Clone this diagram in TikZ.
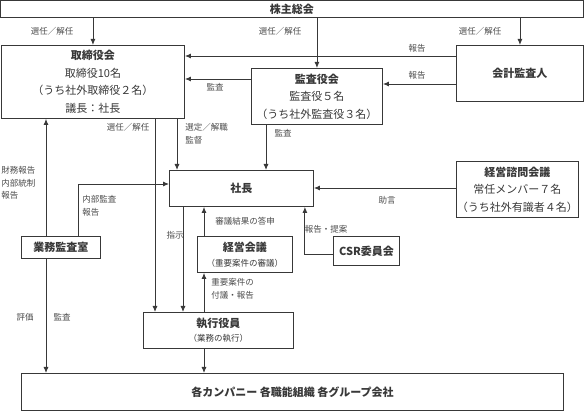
\documentclass[tikz,border=0pt]{standalone}
\usepackage{fontspec}
\setmainfont{Noto Sans CJK JP}
\usetikzlibrary{arrows.meta, positioning, calc}
\definecolor{LineGray}{rgb}{0.22, 0.22, 0.22}
\definecolor{LabelGray}{rgb}{0.3, 0.3, 0.3}

\tikzset{
  orgbox/.style={draw=LineGray, line width=0.9pt, anchor=north west, inner sep=0pt,
    align=center, font=\fontsize{11}{17.5}\selectfont},
  lbl/.style={text=LabelGray, inner sep=0pt, align=left, font=\fontsize{8.5}{12.5}\selectfont},
  ttl/.style={font=\bfseries}
}

\begin{document}
\begin{tikzpicture}[x=1pt, y=-1pt, >={Latex[length=6pt,width=5pt]}, line width=0.9pt, color=LineGray]
        \useasboundingbox (0,0) rectangle (584,411);
        % Boxes
        \node [orgbox, minimum width=583, minimum height=17] (soukai) at (0,0) {\bfseries 株主総会};
        \node [orgbox, minimum width=183, minimum height=73] (tori) at (1,45)
          {{\bfseries 取締役会}\\取締役10名\\（うち社外取締役２名）\\議長：社長};
        \node [orgbox, minimum width=131, minimum height=56] (kansa) at (251,68)
          {{\bfseries 監査役会}\\監査役５名\\（うち社外監査役３名）};
        \node [orgbox, minimum width=127, minimum height=56] (kaikei) at (456,45) {\bfseries 会計監査人};
        \node [orgbox, minimum width=144, minimum height=36] (shacho) at (169,170) {\bfseries 社長};
        \node [orgbox, minimum width=122, minimum height=56] (shimon) at (456,161)
          {{\bfseries 経営諮問会議}\\常任メンバー７名\\（うち社外有識者４名）};
        \node [orgbox, minimum width=79, minimum height=22] (gyomu) at (21,236) {\bfseries 業務監査室};
        \node [orgbox, minimum width=95, minimum height=36] (keiei) at (197,236)
          {{\bfseries 経営会議}\\[-3pt]{\fontsize{8.5}{12}\selectfont （重要案件の審議）}};
        \node [orgbox, minimum width=66, minimum height=29] (csr) at (333,236) {\bfseries CSR委員会};
        \node [orgbox, minimum width=150, minimum height=36] (shikko) at (143,312)
          {{\bfseries 執行役員}\\[-3pt]{\fontsize{8.5}{12}\selectfont （業務の執行）}};
        \node [orgbox, minimum width=542, minimum height=37] (bottom) at (21,373)
          {\bfseries 各カンパニー\ 各職能組織\ 各グループ会社};

        % Shareholders
        \draw [->] (soukai.south -| tori.north) -- (tori.north);
        \draw [->] (soukai.south -| kansa.north) -- (kansa.north);
        \draw [->] (soukai.south -| kaikei.north) -- (kaikei.north);
        \node [lbl] (l1) at (52,31) {選任／解任};
        \node [lbl] (l2) at (280,31) {選任／解任};
        \node [lbl] (l3) at (480,31) {選任／解任};

        % Reports and audits
        \coordinate (kt) at ($(kaikei.north west)+(0,11)$);
        \draw [->] (kt) -- (kt -| tori.east);
        \coordinate (kk) at ($(kaikei.north west)+(0,39)$);
        \draw [->] (kk) -- (kk -| kansa.east);
        \coordinate (kat) at ($(kansa.north west)+(0,11)$);
        \draw [->] (kat) -- (kat -| tori.east);
        \node [lbl] (l4) at (417,48) {報告};
        \node [lbl] (l5) at (417,75) {報告};
        \node [lbl] (l6) at (215,87) {監査};

        \coordinate (ts) at ($(tori.south west)+(176,0)$);
        \draw [->] (ts) -- (ts |- shacho.north);
        \coordinate (ks) at ($(kansa.south west)+(15,0)$);
        \draw [->] (ks) -- (ks |- shacho.north);
        \coordinate (te) at ($(tori.south west)+(154,0)$);
        \draw [->] (te) -- (te |- shikko.north);
        \coordinate (se) at ($(shacho.south west)+(14,0)$);
        \draw [->] (se) -- (se |- shikko.north);
        \node [lbl, anchor=west] (l7) at (185,134) {選定／解職\\監督};
        \node [lbl] (l8) at (283,133) {監査};
        \node [lbl] (l9) at (128,127) {選任／解任};
        \node [lbl] (l10) at (175,235) {指示};

        % Management meeting
        \coordinate (kn) at ($(keiei.north west)+(7,0)$);
        \draw [->] (kn) -- (kn |- shacho.south);
        \draw [->] (kn |- shikko.north) -- (kn |- keiei.south);
        \draw [->] (kn |- shikko.south) -- (kn |- bottom.north);
        \node [lbl] (l11) at (245,221) {審議結果の答申};
        \node [lbl, anchor=west] (l12) at (211,289) {重要案件の\\付議・報告};

        % CSR and advisory
        \coordinate (cs) at ($(csr.north west)+(0,18)$);
        \coordinate (cc) at ($(shacho.south east)+(-9,0)$);
        \draw [->] (cs) -- (cs -| cc) -- (cc);
        \node [lbl] (l13) at (326,229) {報告・提案};
        \coordinate (sm) at ($(shimon.north west)+(0,27)$);
        \draw [->] (sm) -- (sm -| shacho.east);
        \node [lbl] (l14) at (387,200) {助言};

        % Internal audit
        \coordinate (gi) at ($(gyomu.north west)+(57,0)$);
        \coordinate (gs) at ($(shacho.north west)+(0,14)$);
        \draw [->] (gi) -- (gi |- gs) -- (gs);
        \node [lbl, anchor=west] (l15) at (82,206) {内部監査\\報告};
        \coordinate (gt) at ($(gyomu.north west)+(25,0)$);
        \draw [->] (gt) -- (gt |- tori.south);
        \draw [->] (gt |- gyomu.south) -- (gt |- bottom.north);
        \node [lbl, anchor=west] (l16) at (1,183) {財務報告\\内部統制\\報告};
        \node [lbl] (l17) at (25,317) {評価};
        \node [lbl] (l18) at (62,317) {監査};
    \end{tikzpicture}
\end{document}
